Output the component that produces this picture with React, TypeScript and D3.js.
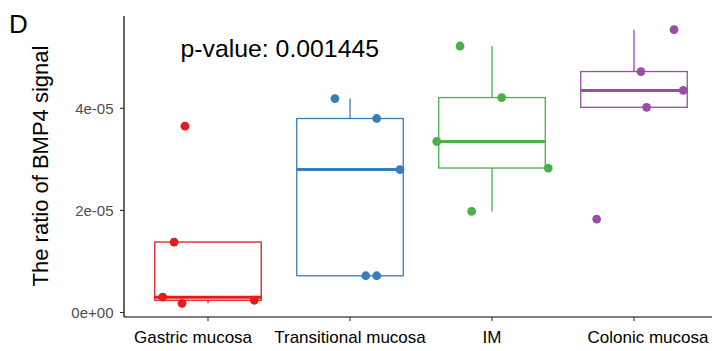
import React from "react";
import * as d3 from "d3";

// Tissue groups and the BMP4 signal ratio measured in each sample
const categories = ["Gastric mucosa", "Transitional mucosa", "IM", "Colonic mucosa"];
const gastricValues = [1.8e-6, 2.4e-6, 3.0e-6, 1.38e-5, 3.65e-5];
const transitionalValues = [4.19e-5, 3.8e-5, 2.8e-5, 7.2e-6, 7.2e-6];
const imValues = [5.22e-5, 4.21e-5, 3.35e-5, 2.83e-5, 1.98e-5];
const colonicValues = [5.54e-5, 4.72e-5, 4.35e-5, 4.02e-5, 1.83e-5];
// Horizontal jitter of each sample, in category units
const gastricJitter = [-0.183, 0.326, -0.319, -0.239, -0.162];
const transitionalJitter = [-0.106, 0.188, 0.352, 0.111, 0.188];
const imJitter = [-0.225, 0.068, -0.389, 0.396, -0.143];
const colonicJitter = [0.282, 0.049, 0.347, 0.089, -0.263];
const yTicks = [0, 2e-5, 4e-5];
const yTickLabels = ["0e+00", "2e-05", "4e-05"];
const colors = ["#E41A1C", "#377EB8", "#4DAF4A", "#984EA3"];
const pValueText = "p-value: 0.001445";
const panelLetter = "D";
const yTitle = "The ratio of BMP4 signal";

const groups = [gastricValues, transitionalValues, imValues, colonicValues];
const jitters = [gastricJitter, transitionalJitter, imJitter, colonicJitter];

const FONT = "'Liberation Sans', Arial, Helvetica, sans-serif";

function boxStats(values: number[]) {
  const s = [...values].sort((a, b) => a - b);
  const q1 = d3.quantile(s, 0.25)!;
  const med = d3.quantile(s, 0.5)!;
  const q3 = d3.quantile(s, 0.75)!;
  const iqr = q3 - q1;
  const lo = d3.min(s.filter((v) => v >= q1 - 1.5 * iqr))!;
  const hi = d3.max(s.filter((v) => v <= q3 + 1.5 * iqr))!;
  return { q1, med, q3, lo, hi };
}

export default function App() {
  const width = 712;
  const height = 351;
  const left = 122.8;
  const top = 16;
  const bottom = 317;

  const x = d3.scaleLinear().domain([0.4, categories.length + 0.6]).range([left, left + 4.2 * 142]);
  const all = groups.flat();
  const [mn, mx] = d3.extent(all) as [number, number];
  const pad = (mx - mn) * 0.05;
  const y = d3.scaleLinear().domain([mn - pad, mx + pad]).range([bottom, top]);

  const boxHalf = 0.375;
  const labelShift = [-15, 0, 0, 14];
  const axisX = 124;

  return (
    <svg
      width={width}
      height={height}
      style={{ position: "absolute", left: 0, top: 0, background: "#fff" }}
      fontFamily={FONT}
    >
      <rect width={width} height={height} fill="#fff" />
      <text x={9} y={33} fontSize={26} fill="#000">{panelLetter}</text>

      {groups.map((vals, i) => {
        const st = boxStats(vals);
        const cx = x(i + 1);
        const x0 = x(i + 1 - boxHalf);
        const x1 = x(i + 1 + boxHalf);
        const c = colors[i];
        return (
          <g key={categories[i]}>
            {st.hi > st.q3 && (
              <line x1={cx} x2={cx} y1={y(st.q3)} y2={y(st.hi)} stroke={c} strokeWidth={1.3} />
            )}
            {st.lo < st.q1 && (
              <line x1={cx} x2={cx} y1={y(st.q1)} y2={y(st.lo)} stroke={c} strokeWidth={1.3} />
            )}
            <rect
              x={x0}
              y={y(st.q3)}
              width={x1 - x0}
              height={y(st.q1) - y(st.q3)}
              fill="none"
              stroke={c}
              strokeWidth={1.3}
            />
            <line x1={x0} x2={x1} y1={y(st.med)} y2={y(st.med)} stroke={c} strokeWidth={3} />
            {vals.map((v, j) => (
              <circle key={j} cx={x(i + 1 + jitters[i][j])} cy={y(v)} r={4.4} fill={c} />
            ))}
          </g>
        );
      })}

      {/* axes */}
      <line x1={axisX} x2={axisX} y1={top} y2={bottom} stroke="#000" strokeWidth={1.2} />
      <line x1={axisX} x2={width} y1={bottom} y2={bottom} stroke="#000" strokeWidth={1.2} />
      {yTicks.map((t, i) => (
        <g key={t}>
          <line x1={axisX - 4} x2={axisX} y1={y(t)} y2={y(t)} stroke="#333" strokeWidth={1.1} />
          <text
            x={113.5}
            y={y(t)}
            dy="0.36em"
            textAnchor="end"
            fontSize={15}
            fill="#4D4D4D"
          >
            {yTickLabels[i]}
          </text>
        </g>
      ))}
      {categories.map((c, i) => (
        <g key={c}>
          <line x1={x(i + 1)} x2={x(i + 1)} y1={bottom} y2={bottom + 4} stroke="#333" strokeWidth={1.1} />
          <text
            x={x(i + 1) + labelShift[i]}
            y={343}
            textAnchor="middle"
            fontSize={17}
            fill="#000"
          >
            {c}
          </text>
        </g>
      ))}

      <text
        transform={`translate(48,166) rotate(-90)`}
        textAnchor="middle"
        fontSize={22}
        fill="#000"
      >
        {yTitle}
      </text>

      <text x={180.5} y={57} fontSize={24.8} fill="#000">{pValueText}</text>
    </svg>
  );
}
